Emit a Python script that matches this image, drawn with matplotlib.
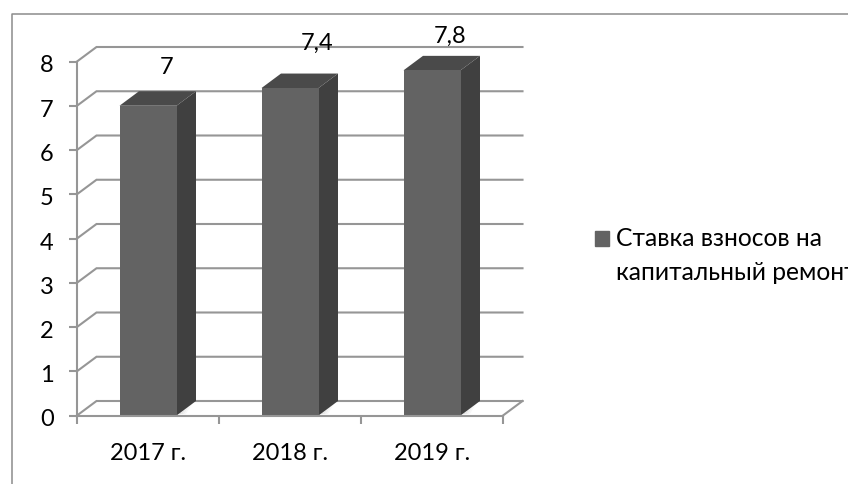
import matplotlib
matplotlib.use("Agg")
import matplotlib.pyplot as plt
from matplotlib.lines import Line2D
from matplotlib.patches import Patch
from matplotlib.transforms import ScaledTranslation

categories = ["2017 г.", "2018 г.", "2019 г."]
values = [7.0, 7.4, 7.8]
value_labels = ["7", "7,4", "7,8"]
series_name = "Ставка взносов на\nкапитальный ремонт"
y_ticks = list(range(0, 9))

plt.rcParams["font.family"] = ["Lato", "Open Sans", "DejaVu Sans"]
W, H = 848, 484
GRID = "#969696"
FRONT, SIDE, TOP = "#636363", "#404040", "#4a4a4a"
FS = 17

fig = plt.figure(figsize=(W / 100, H / 100), dpi=100, facecolor="white")
ax = fig.add_axes([77 / W, 1 - 415.5 / H, (503 - 77) / W, (415.5 - 61.5) / H])
ax.set_xlim(0, len(categories))
ax.set_ylim(0, 8)
ax.patch.set_alpha(0)

# depth of the pseudo-3D box, in data units
DX = 19.5 / (426 / 3)
DY = 14.5 / (354 / 8)
BAR_W = 57 / (426 / 3)
xmax = len(categories)
LW = 1.5

# back wall gridlines and left wall diagonals
for t in y_ticks:
    ax.plot([0, DX, xmax + DX], [t, t + DY, t + DY], color=GRID, lw=LW,
            clip_on=False, zorder=1, solid_joinstyle="miter")
# floor front-right diagonal
ax.plot([xmax, xmax + DX], [0, DY], color=GRID, lw=LW, clip_on=False, zorder=1)

# floor shadow beside each bar
for i in range(len(categories)):
    xr = i + 0.5 + BAR_W / 2
    for k in range(8):
        f0, f1 = k / 8, (k + 1) / 8
        ax.fill([xr + DX * 0.35 + f0 * 0.1 - 0.02, xr + DX * 0.35 + f1 * 0.1 - 0.02,
                 xr + f1 * 0.1 - 0.02, xr + f0 * 0.1 - 0.02],
                [DY * 0.9, DY * 0.9, 0.03, 0.03],
                color=str(0.75 + 0.25 * f1), lw=0, zorder=1.5, clip_on=False)

# bars: front face from the library, side and top faces from the same values
centers = [i + 0.5 for i in range(len(categories))]
ax.bar(centers, values, width=BAR_W, color=FRONT, zorder=3)
for c, v in zip(centers, values):
    l, r = c - BAR_W / 2, c + BAR_W / 2
    ax.fill([r, r + DX, r + DX, r], [0, DY, v + DY, v], color=SIDE, lw=0,
            zorder=2.9, clip_on=False)
    ax.fill([l, l + DX, r + DX, r], [v, v + DY, v + DY, v], color=TOP, lw=0,
            zorder=2.9, clip_on=False)

# data labels, placed by hand in the reference
label_offsets = [(19, 38), (27, 45), (18, 34)]
for c, v, s, off in zip(centers, values, value_labels, label_offsets):
    ax.annotate(s, (c, v), xytext=off, textcoords=("offset pixels"),
                ha="center", va="center", fontsize=FS, color="black", zorder=5,
                annotation_clip=False)

# axes
for side in ("top", "right"):
    ax.spines[side].set_visible(False)
for side in ("left", "bottom"):
    ax.spines[side].set_color(GRID)
    ax.spines[side].set_linewidth(LW)
    ax.spines[side].set_zorder(4)
ax.set_yticks(y_ticks)
ax.set_xticks(range(len(categories) + 1))
ax.set_xticklabels([])
ax.set_xticks(centers, minor=True)
ax.set_xticklabels(categories, minor=True)
ax.tick_params(axis="x", which="major", length=5.8, width=LW, color=GRID)
ax.tick_params(axis="x", which="minor", length=0, pad=20, labelsize=FS)
ax.tick_params(axis="y", length=5.8, width=LW, color=GRID, pad=11, labelsize=FS)
shift = ScaledTranslation(0, -2.5 / 100, fig.dpi_scale_trans)
for lab in ax.get_yticklabels():
    lab.set_transform(lab.get_transform() + shift)

# outer chart frame, cut by the image on the right and bottom
fig.add_artist(Line2D([11.5 / W, 11.5 / W, 1], [0, 1 - 13.5 / H, 1 - 13.5 / H],
                      color="#8c8c8c", lw=1.1, transform=fig.transFigure))

# legend, with the swatch beside the first line of the label
leg = fig.legend(handles=[Patch(color=FRONT, label=series_name)],
                 loc="upper left", bbox_to_anchor=(595 / W, 1 - 227 / H),
                 frameon=False, fontsize=17.7, handlelength=0.58, handleheight=0.58,
                 handletextpad=0.29, borderpad=0, borderaxespad=0, labelspacing=0)
for t in leg.get_texts():
    t.set_linespacing(1.58)
swatch = leg.get_patches()[0]
swatch.set_y(swatch.get_y() + 13)

fig.savefig("out.png", dpi=100)
